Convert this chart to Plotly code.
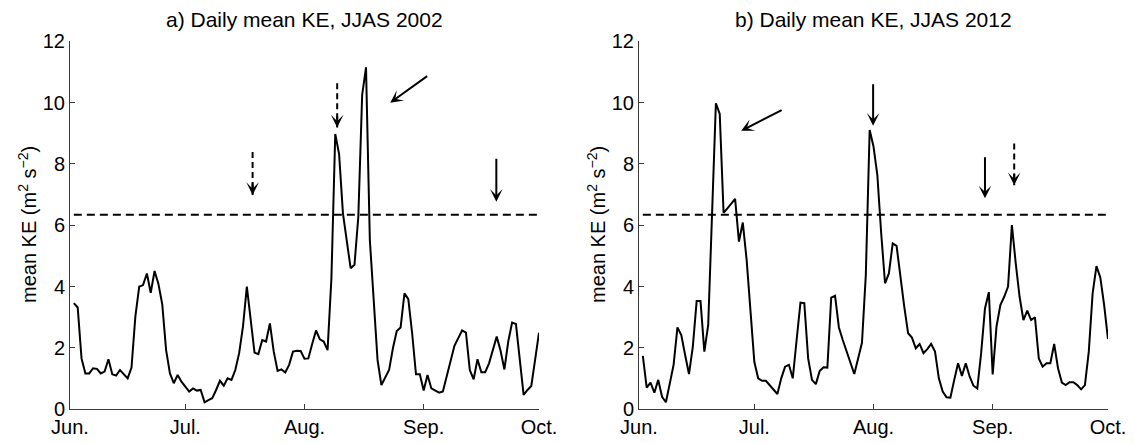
import plotly.graph_objects as go

# ---------------- data ----------------
days = list(range(1, 123))  # Jun 1 ... Sep 30
month_tick_days = [0, 30, 61, 92, 122]
month_tick_labels = ["Jun.", "Jul.", "Aug.", "Sep.", "Oct."]
y_ticks = [0, 2, 4, 6, 8, 10, 12]

ke_2002 = [3.46, 3.32, 1.66, 1.17, 1.17, 1.34, 1.32, 1.17, 1.23, 1.63,
           1.14, 1.10, 1.28, 1.14, 1.01, 1.36, 3.02, 4.00, 4.05, 4.43,
           3.80, 4.51, 4.09, 3.42, 1.93, 1.17, 0.85, 1.12, 0.90, 0.74,
           0.58, 0.68, 0.61, 0.63, 0.23, 0.30, 0.36, 0.63, 0.93, 0.77,
           1.01, 0.96, 1.28, 1.83, 2.70, 4.00, 2.91, 1.85, 1.80, 2.26,
           2.21, 2.80, 1.88, 1.25, 1.30, 1.20, 1.45, 1.88, 1.91, 1.90,
           1.65, 1.66, 2.13, 2.57, 2.28, 2.21, 1.93, 4.27, 8.98, 8.32,
           6.39, 5.52, 4.60, 4.71, 6.28, 10.25, 11.15, 5.52, 3.62, 1.61,
           0.79, 1.04, 1.28, 1.99, 2.55, 2.67, 3.78, 3.59, 2.48, 1.14,
           1.14, 0.61, 1.12, 0.68, 0.61, 0.54, 0.58, 1.07, 1.61, 2.07,
           2.32, 2.57, 2.50, 1.28, 0.98, 1.63, 1.21, 1.21, 1.50, 1.93,
           2.37, 1.91, 1.30, 2.21, 2.83, 2.78, 1.66, 0.47, 0.63, 0.76,
           1.63, 2.50]

ke_2012 = [1.74, 0.71, 0.87, 0.54, 0.96, 0.41, 0.23, 0.85, 1.45, 2.67,
           2.42, 1.77, 1.15, 2.04, 3.53, 3.53, 1.88, 2.75, 6.39, 9.98,
           9.63, 6.41, 6.55, 6.72, 6.86, 5.47, 6.09, 4.87, 3.13, 1.55,
           1.01, 0.93, 0.93, 0.79, 0.63, 0.50, 1.01, 1.39, 1.45, 1.01,
           2.26, 3.48, 3.46, 1.66, 0.96, 0.82, 1.25, 1.37, 1.36, 3.64,
           3.70, 2.67, 2.26, 1.88, 1.55, 1.15, 1.66, 2.17, 4.38, 9.11,
           8.57, 7.64, 5.74, 4.11, 4.43, 5.41, 5.33, 4.27, 3.35, 2.48,
           2.34, 1.99, 2.13, 1.83, 1.96, 2.13, 1.88, 1.01, 0.58, 0.39,
           0.38, 0.96, 1.50, 1.09, 1.50, 1.07, 0.77, 0.68, 1.83, 3.29,
           3.82, 1.14, 2.70, 3.40, 3.67, 4.00, 6.01, 4.76, 3.67, 2.91,
           3.22, 2.91, 3.00, 1.66, 1.39, 1.50, 1.50, 2.13, 1.34, 0.87,
           0.79, 0.88, 0.88, 0.79, 0.65, 0.79, 1.88, 3.78, 4.67, 4.30,
           3.40, 2.29]

threshold = 6.34

titles = ["a) Daily mean KE, JJAS 2002", "b) Daily mean KE, JJAS 2012"]
y_label = "mean KE (m<sup>2</sup> s<sup>\u22122</sup>)"

# arrows: (tail_x, tail_y, tip_x, tip_y, dashed)
arrows_2002 = [(47.5, 8.39, 47.5, 6.99, True),
               (69.5, 10.63, 69.5, 9.19, True),
               (110.9, 8.22, 110.9, 6.77, False),
               (93.3, 10.90, 83.3, 10.00, False)]
arrows_2012 = [(37.5, 9.78, 26.6, 9.08, False),
               (60.9, 10.65, 60.9, 9.25, False),
               (90.0, 8.27, 90.0, 6.88, False),
               (97.6, 8.67, 97.6, 7.31, True)]

# ---------------- figure ----------------
# The page places the plot 8 px from the top-left corner of the window,
# so the figure is drawn 8 px smaller and all pixel positions shifted by 8.
OFF = 8
W, H = 1135 - OFF, 443 - OFF
FONT = "Liberation Sans, Arial, Helvetica, sans-serif"
AXC = "#3a3a3a"


def px_x(p):
    return (p - OFF) / W


def px_y(p):
    return (H - (p - OFF)) / H


fig = go.Figure()

panels = [("x", "y", ke_2002, arrows_2002), ("x2", "y2", ke_2012, arrows_2012)]
x_domains = [[px_x(70), px_x(539)], [px_x(639), px_x(1108)]]
y_domain = [px_y(409.3), px_y(41.3)]
ylabel_x = [27, 596]

annotations = []
for i, (xa, ya, series, arrows) in enumerate(panels):
    fig.add_trace(go.Scatter(x=days, y=series, mode="lines",
                             line=dict(color="black", width=2),
                             xaxis=xa, yaxis=ya, showlegend=False, hoverinfo="skip"))
    fig.add_trace(go.Scatter(x=[days[0], days[-1]], y=[threshold, threshold], mode="lines",
                             line=dict(color="black", width=2, dash="8px,5px"),
                             xaxis=xa, yaxis=ya, showlegend=False, hoverinfo="skip"))
    for (tx, ty, hx, hy, dashed) in arrows:
        if dashed:
            fig.add_trace(go.Scatter(x=[tx, hx], y=[ty, hy], mode="lines",
                                     line=dict(color="black", width=2, dash="6px,4px"),
                                     xaxis=xa, yaxis=ya, showlegend=False, hoverinfo="skip"))
            annotations.append(dict(x=hx, y=hy, xref=xa, yref=ya,
                                    ax=0, ay=-13, axref="pixel", ayref="pixel",
                                    showarrow=True, arrowhead=3, arrowsize=1.05,
                                    arrowwidth=2, arrowcolor="black", text="", standoff=0))
        else:
            annotations.append(dict(x=hx, y=hy, xref=xa, yref=ya,
                                    ax=tx, ay=ty, axref=xa, ayref=ya,
                                    showarrow=True, arrowhead=3, arrowsize=1.05,
                                    arrowwidth=2, arrowcolor="black", text="", standoff=0))
    xd = x_domains[i]
    annotations.append(dict(x=(xd[0] + xd[1]) / 2, y=px_y(19), xref="paper", yref="paper",
                            text=titles[i], showarrow=False, xanchor="center", yanchor="middle",
                            font=dict(family=FONT, size=21, color="black")))
    annotations.append(dict(x=px_x(ylabel_x[i]), y=px_y(225), xref="paper", yref="paper",
                            text=y_label, showarrow=False, textangle=-90,
                            xanchor="center", yanchor="middle",
                            font=dict(family=FONT, size=20, color="black")))

axis_common = dict(showline=True, linecolor=AXC, linewidth=1, ticks="inside", ticklen=5,
                   tickcolor=AXC, tickwidth=1, showgrid=False, zeroline=False, mirror=False,
                   tickfont=dict(family=FONT, size=20, color="black"), automargin=False)

layout = dict(width=W, height=H, margin=dict(l=0, r=0, t=0, b=0),
              paper_bgcolor="white", plot_bgcolor="white",
              annotations=annotations, showlegend=False)
for i, (xa, ya, _, _) in enumerate(panels):
    xkey = "xaxis" if xa == "x" else "xaxis2"
    ykey = "yaxis" if ya == "y" else "yaxis2"
    layout[xkey] = dict(axis_common, domain=x_domains[i], range=[0, 122],
                        tickmode="array", tickvals=month_tick_days, ticktext=month_tick_labels,
                        anchor=ya)
    layout[ykey] = dict(axis_common, domain=y_domain, range=[0, 12],
                        tickmode="array", tickvals=y_ticks, anchor=xa)
fig.update_layout(**layout)

fig.write_html("out.html")
